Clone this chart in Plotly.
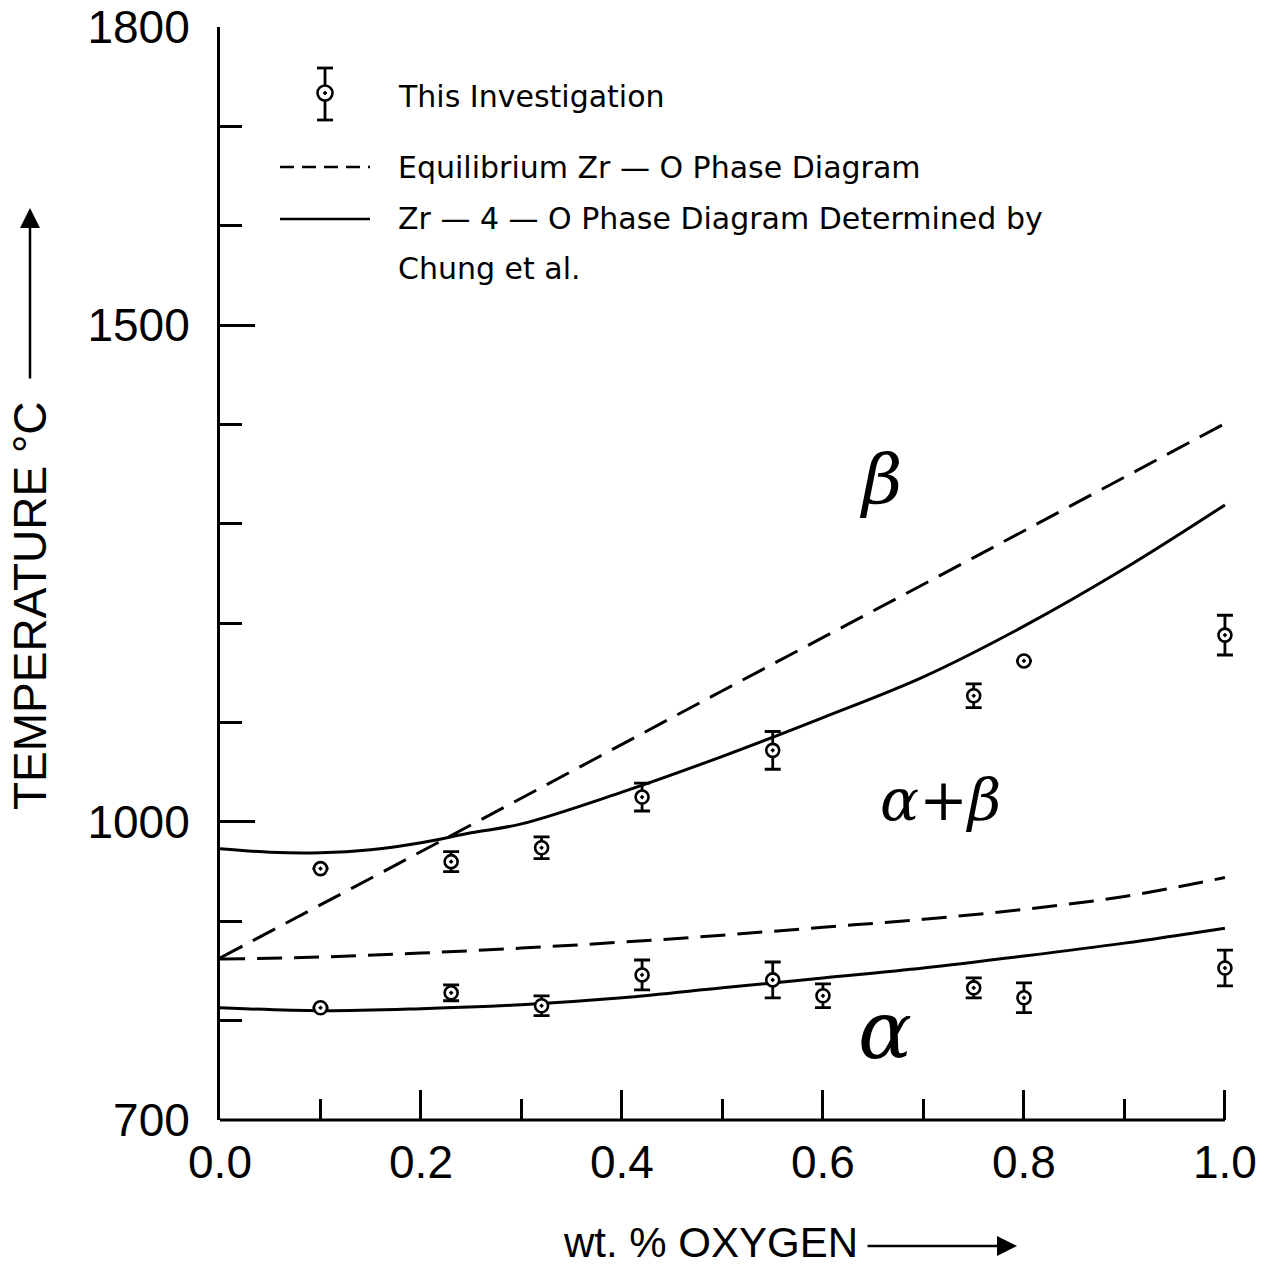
import plotly.graph_objects as go

# ---------------- data ----------------
# measured transformation temperatures (This Investigation)
upper_x = [0.1, 0.23, 0.32, 0.42, 0.55, 0.75, 0.80, 1.0]
upper_T = [953, 960, 974, 1025, 1072, 1127, 1162, 1188]
upper_err = [0, 10, 11, 14, 19, 12, 0, 20]

lower_x = [0.1, 0.23, 0.32, 0.42, 0.55, 0.60, 0.75, 0.80, 1.0]
lower_T = [813, 828, 815, 846, 841, 825, 833, 823, 853]
lower_err = [0, 8, 10, 15, 18, 12, 10, 15, 18]

# Equilibrium Zr-O phase diagram (dashed)
eq_upper_x = [0.0, 0.25, 0.5, 0.75, 1.0]
eq_upper_T = [863, 997, 1132, 1266, 1401]
eq_lower_x = [0.0, 0.1, 0.2, 0.3, 0.4, 0.5, 0.6, 0.7, 0.8, 0.9, 1.0]
eq_lower_T = [862, 864, 868, 873, 879, 886, 894, 902, 912, 925, 944]

# Zr-4-O phase diagram by Chung et al. (solid)
ch_upper_x = [0.0, 0.05, 0.1, 0.15, 0.2, 0.25, 0.3, 0.4, 0.5, 0.6, 0.7, 0.8, 0.9, 1.0]
ch_upper_T = [973, 969.5, 969, 972, 979, 989, 998, 1030, 1066, 1105, 1146, 1197, 1255, 1319]
ch_lower_x = [0.0, 0.1, 0.2, 0.3, 0.4, 0.5, 0.6, 0.7, 0.8, 0.9, 1.0]
ch_lower_T = [813, 810, 812, 816, 823, 833, 843, 853, 865, 878, 893]

x_tickvals = [0.0, 0.2, 0.4, 0.6, 0.8, 1.0]
x_ticktext = ["0.0", "0.2", "0.4", "0.6", "0.8", "1.0"]
y_tickvals = [700, 1000, 1500, 1800]
y_ticktext = ["700", "1000", "1500", "1800"]

legend_labels = ["This Investigation",
                 "Equilibrium Zr \u2014 O Phase Diagram",
                 "Zr \u2014 4 \u2014 O Phase Diagram Determined by",
                 "Chung et al."]
region_labels = ["\u03b2", "\u03b1+\u03b2", "\u03b1"]

# ---------------- figure ----------------
X_MAX = 1.012  # small headroom so the error-bar caps at 1.0 are not clipped
W, H = 1265, 1269
L, T, B = 220, 27, 149
PW = round(1005 * X_MAX)
R = W - L - PW
PH = H - T - B


def px(xp):
    return (xp - L) / PW


def py(yp):
    return (H - B - yp) / PH


fig = go.Figure()
line_w = 3
dash = "25px,12px"

fig.add_trace(go.Scatter(x=eq_upper_x, y=eq_upper_T, mode="lines", line_shape="spline",
                         line=dict(color="black", width=line_w, dash=dash), showlegend=False))
fig.add_trace(go.Scatter(x=eq_lower_x, y=eq_lower_T, mode="lines", line_shape="spline",
                         line=dict(color="black", width=line_w, dash=dash), showlegend=False))
fig.add_trace(go.Scatter(x=ch_upper_x, y=ch_upper_T, mode="lines", line_shape="spline",
                         line=dict(color="black", width=line_w), showlegend=False))
fig.add_trace(go.Scatter(x=ch_lower_x, y=ch_lower_T, mode="lines", line_shape="spline",
                         line=dict(color="black", width=line_w), showlegend=False))

marker = dict(symbol="circle-dot", size=13, color="white",
              line=dict(color="black", width=2.6))
for xs, ys, es in [(upper_x, upper_T, upper_err), (lower_x, lower_T, lower_err)]:
    fig.add_trace(go.Scatter(x=xs, y=ys, mode="markers", marker=marker, cliponaxis=False,
                             error_y=dict(type="data", array=es, visible=True,
                                          color="black", thickness=2.8, width=8),
                             showlegend=False))

tickfont = dict(family="Liberation Sans, Arial, sans-serif", size=46, color="black")
fig.update_xaxes(range=[0, X_MAX], tickvals=x_tickvals, ticktext=x_ticktext, automargin=False,
                 ticks="inside", ticklen=30, tickwidth=2.5, tickcolor="black",
                 minor=dict(tickvals=[0.1, 0.3, 0.5, 0.7, 0.9], ticks="inside", ticklen=21,
                            tickwidth=2.5, tickcolor="black"),
                 showline=False, showgrid=False,
                 zeroline=False, tickfont=tickfont, ticklabelstandoff=11)
fig.update_yaxes(range=[700, 1800], tickvals=y_tickvals, ticktext=y_ticktext, automargin=False,
                 ticks="inside", ticklen=35, tickwidth=2.5, tickcolor="black",
                 minor=dict(tickvals=[800, 900, 1100, 1200, 1300, 1400, 1600, 1700],
                            ticks="inside", ticklen=22, tickwidth=2.5, tickcolor="black"),
                 showline=True, linecolor="black", linewidth=3, showgrid=False,
                 zeroline=False, tickfont=tickfont, ticklabelstandoff=18)

shapes = []
annotations = []

# x-axis line ending at the last tick
shapes.append(dict(type="line", xref="x", yref="paper", x0=x_tickvals[0], x1=x_tickvals[-1],
                   y0=0, y1=0, line=dict(color="black", width=3)))

txtfont = dict(family="DejaVu Sans, sans-serif", size=30, color="black")

# legend: marker with error bar
cx, cy = px(325), py(93)
shapes.append(dict(type="line", xref="paper", yref="paper", x0=cx, x1=cx, y0=py(68), y1=py(120),
                   line=dict(color="black", width=2.8)))
for yy in (68, 120):
    shapes.append(dict(type="line", xref="paper", yref="paper", x0=px(317), x1=px(333),
                       y0=py(yy), y1=py(yy), line=dict(color="black", width=2.8)))
shapes.append(dict(type="circle", xref="paper", yref="paper", xsizemode="pixel", ysizemode="pixel",
                   xanchor=cx, yanchor=cy, x0=-7.5, x1=7.5, y0=-7.5, y1=7.5,
                   fillcolor="white", line=dict(color="black", width=2.6)))
shapes.append(dict(type="circle", xref="paper", yref="paper", xsizemode="pixel", ysizemode="pixel",
                   xanchor=cx, yanchor=cy, x0=-1.5, x1=1.5, y0=-1.5, y1=1.5,
                   fillcolor="black", line=dict(color="black", width=1)))
# legend: dashed and solid lines
shapes.append(dict(type="line", xref="paper", yref="paper", x0=px(280), x1=px(370),
                   y0=py(167), y1=py(167), line=dict(color="black", width=2.5, dash="14px,8px")))
shapes.append(dict(type="line", xref="paper", yref="paper", x0=px(280), x1=px(370),
                   y0=py(219), y1=py(219), line=dict(color="black", width=2.5)))

for text, yy in zip(legend_labels, [97, 167, 219, 268]):
    annotations.append(dict(text=text, xref="paper", yref="paper", x=px(396), y=py(yy),
                            xanchor="left", yanchor="middle", showarrow=False, font=txtfont))

# region labels
regfont = dict(family="DejaVu Serif, serif", color="black")
for text, (xx, yy), size in zip(region_labels, [(880, 480), (940, 800), (885, 1030)], [70, 58, 80]):
    annotations.append(dict(text="<i>" + text + "</i>", xref="paper", yref="paper",
                            x=px(xx), y=py(yy), xanchor="center", yanchor="middle",
                            showarrow=False, font=dict(size=size, **regfont)))

# axis titles with arrows
titlefont = dict(family="Liberation Sans, Arial, sans-serif", size=42, color="black")
annotations.append(dict(text="wt. % OXYGEN", xref="paper", yref="paper", x=px(860), y=py(1242),
                        xanchor="right", yanchor="middle", showarrow=False, font=titlefont))
annotations.append(dict(text="", xref="paper", yref="paper", x=px(1017), y=py(1246),
                        ax=-151, ay=0, axref="pixel", ayref="pixel",
                        showarrow=True, arrowhead=2, arrowsize=1.6, arrowwidth=2.5,
                        arrowcolor="black"))
annotations.append(dict(text="TEMPERATURE \u00b0C", xref="paper", yref="paper", x=px(30), y=py(606),
                        xanchor="center", yanchor="middle", textangle=-90, showarrow=False,
                        font=dict(family="Liberation Sans, Arial, sans-serif", size=46,
                                  color="black")))
annotations.append(dict(text="", xref="paper", yref="paper", x=px(30), y=py(208),
                        ax=0, ay=172, axref="pixel", ayref="pixel",
                        showarrow=True, arrowhead=2, arrowsize=1.6, arrowwidth=2.5,
                        arrowcolor="black"))

fig.update_layout(width=W, height=H, margin=dict(l=L, r=R, t=T, b=B, pad=0, autoexpand=False),
                  plot_bgcolor="white", paper_bgcolor="white",
                  shapes=shapes, annotations=annotations, showlegend=False)

fig.write_html("out.html", config={"displayModeBar": False},
               post_script="document.body.style.margin='0';")
